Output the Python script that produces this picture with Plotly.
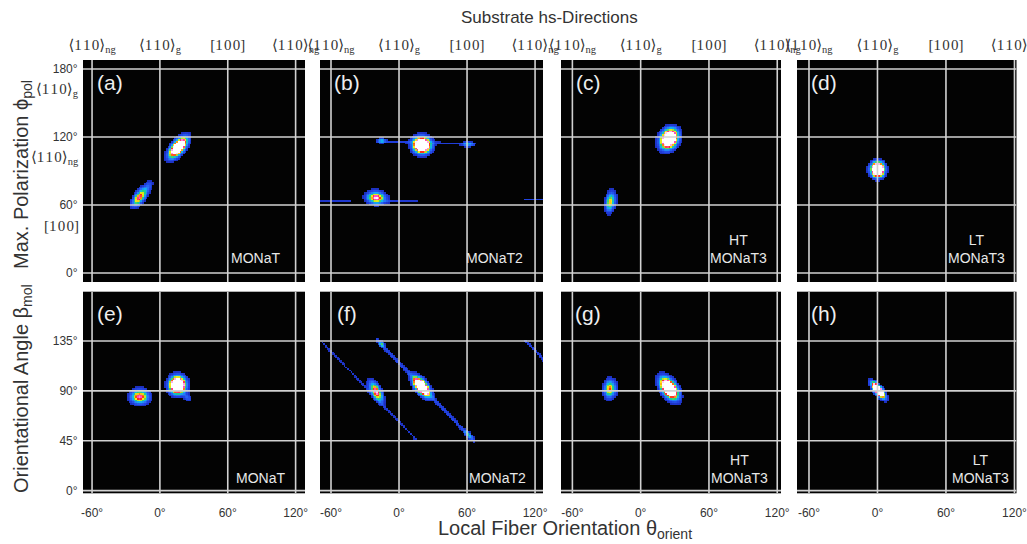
import numpy as np
import plotly.graph_objects as go

# ---------------- data ----------------
panel_letters = ["(a)", "(b)", "(c)", "(d)", "(e)", "(f)", "(g)", "(h)"]
sample_labels = ["MONaT", "MONaT2", "HT<br>MONaT3", "LT<br>MONaT3",
                 "MONaT", "MONaT2", "HT<br>MONaT3", "LT<br>MONaT3"]

theta_ticks = [-60, 0, 60, 120]
theta_ticktext = ["-60°", "0°", "60°", "120°"]
direction_ticktext = ["⟨1\u200a1\u200a0⟩<sub>ng</sub>", "⟨1\u200a1\u200a0⟩<sub>g</sub>",
                      "[1\u200a0\u200a0]", "⟨1\u200a1\u200a0⟩<sub>ng</sub>"]
phi_ticks = [0, 60, 120, 180]
phi_ticktext = ["0°", "60°", "120°", "180°"]
phi_dir_vals = [60, 120, 180]
phi_dir_text = ["[1\u200a0\u200a0]", "⟨1\u200a1\u200a0⟩<sub>ng</sub>", "⟨1\u200a1\u200a0⟩<sub>g</sub>"]
beta_ticks = [0, 45, 90, 135]
beta_ticktext = ["0°", "45°", "90°", "135°"]

# density blobs: (theta centre, angle centre, sigma major, sigma minor, tilt deg, peak)
# (the low-peak, wide entries are the dim blue halos around the bright cores)
blobs_a = [(-18.5, 66.5, 5.0, 2.4, 55, 0.78), (-11.5, 75.0, 5.0, 2.2, 55, 0.18),
           (16.0, 111.0, 6.0, 2.8, 50, 2.0),
           (16.0, 111.0, 8.0, 4.0, 50, 0.12), (-16.5, 69.0, 7.0, 3.4, 55, 0.1)]
blobs_b = [(20.3, 113.0, 3.9, 4.3, 80, 2.3), (-20.0, 66.5, 3.0, 4.6, 85, 0.9),
           (-15.0, 117.0, 2.2, 1.3, 0, 0.35), (61.0, 114.0, 3.0, 1.4, 0, 0.35),
           (20.3, 113.0, 5.5, 6.0, 80, 0.12), (-20.0, 67.0, 4.2, 6.2, 85, 0.1)]
blobs_c = [(25.0, 118.5, 5.2, 4.0, 60, 2.1), (-26.5, 63.0, 5.0, 2.4, 80, 0.62),
           (25.0, 118.5, 7.0, 5.5, 60, 0.12), (-26.5, 63.0, 6.5, 3.3, 80, 0.08)]
blobs_d = [(0.0, 91.5, 3.6, 3.3, 90, 2.6), (0.0, 92.0, 4.6, 4.2, 90, 0.1)]
blobs_e = [(-18.0, 84.5, 4.6, 3.6, 0, 0.82), (15.5, 95.0, 4.3, 4.0, 90, 2.3),
           (24.0, 84.0, 3.2, 1.8, -45, 0.2),
           (15.5, 95.0, 5.8, 5.2, 90, 0.12), (-17.5, 84.5, 6.0, 4.5, 0, 0.1)]
blobs_f = [(20.0, 93.5, 5.8, 2.7, -52, 2.2), (-20.0, 89.0, 5.6, 2.4, -62, 0.88),
           (-15.0, 132.0, 2.0, 1.3, -47, 0.38), (61.4, 50.6, 3.0, 1.3, -47, 0.38),
           (20.0, 93.5, 7.5, 3.6, -52, 0.12), (-20.0, 89.0, 7.0, 3.2, -62, 0.1)]
blobs_g = [(-27.0, 91.5, 4.6, 3.0, 85, 0.66), (25.0, 92.0, 6.0, 3.4, -55, 2.2),
           (25.0, 92.0, 8.0, 4.5, -55, 0.12), (-27.0, 91.5, 6.0, 4.0, 85, 0.1)]
blobs_h = [(0.5, 90.5, 4.7, 1.8, -52, 2.6), (0.5, 90.5, 6.0, 2.4, -52, 0.1)]

# streaks: (theta start, angle start, theta end, angle end, width, peak)
streaks_b = [(-19.0, 116.5, 66.0, 114.0, 0.9, 0.11),
             (-69.0, 64.0, -43.0, 63.5, 0.8, 0.09),
             (-12.0, 63.5, 16.0, 63.0, 0.8, 0.1),
             (111.0, 65.0, 130.0, 65.0, 1.0, 0.13)]
streaks_f = [(-19.4, 136.0, 65.8, 45.0, 1.1, 0.14),
             (-68.0, 134.0, 15.9, 45.3, 0.8, 0.09),
             (111.5, 135.4, 130.0, 116.0, 0.9, 0.12)]

panel_blobs = [blobs_a, blobs_b, blobs_c, blobs_d, blobs_e, blobs_f, blobs_g, blobs_h]
panel_streaks = [[], streaks_b, [], [], [], streaks_f, [], []]

# ---------------- layout geometry (pixels) ----------------
W, H = 1027, 544
col_px = [(83, 305), (320, 543), (561, 781), (797, 1016.5)]
col_range = [(-68, 128.3), (-69.7, 127), (-70, 123.3), (-70.5, 121.8)]
row_px = [(60, 282), (291.7, 493.3)]
row_range = [(-8, 188), (-2.4, 179.4)]
sample_pos = [(255.5, 260), (494, 260), (738.7, 260), (976.7, 260),
              (260.7, 480), (497, 480), (739.3, 480), (980, 480)]

SANS = "Liberation Sans, Arial, sans-serif"
SERIF = "Liberation Serif, DejaVu Serif, serif"
TXT = "#333333"

colorscale = [
    [0.0, "#1a22a0"], [0.12, "#2040e0"], [0.25, "#2a70f8"], [0.38, "#10b8f0"],
    [0.48, "#20d080"], [0.58, "#c8e61e"], [0.66, "#ffe619"], [0.76, "#ff2a14"],
    [0.88, "#ff50c8"], [1.0, "#ffffff"],
]


def render(xg, yg, blobs, streaks):
    X, Y = np.meshgrid(xg, yg)
    Z = np.zeros_like(X)
    for cx, cy, smaj, smin, tilt, peak in blobs:
        t = np.radians(tilt)
        dx, dy = X - cx, Y - cy
        u = dx * np.cos(t) + dy * np.sin(t)
        v = -dx * np.sin(t) + dy * np.cos(t)
        Z += peak * np.exp(-0.5 * ((u / smaj) ** 2 + (v / smin) ** 2))
    for x0, y0, x1, y1, w, peak in streaks:
        vx, vy = x1 - x0, y1 - y0
        L2 = vx * vx + vy * vy
        s = np.clip(((X - x0) * vx + (Y - y0) * vy) / L2, 0, 1)
        d = np.hypot(X - (x0 + s * vx), Y - (y0 + s * vy))
        Z += peak * np.exp(-0.5 * (d / w) ** 2)
    Z[Z < 0.05] = np.nan
    return Z


def px(xp):
    return xp / W


def py(yp):
    return 1 - yp / H


fig = go.Figure()
layout = dict(
    width=W, height=H, margin=dict(l=0, r=0, t=0, b=0, autoexpand=False),
    paper_bgcolor="white", plot_bgcolor="#030303", showlegend=False,
    font=dict(family=SANS, color=TXT),
)
shapes = []
annotations = []

for i in range(8):
    r, c = divmod(i, 4)
    n = i + 1
    xs = "x" if n == 1 else f"x{n}"
    ys = "y" if n == 1 else f"y{n}"
    xr, yr = col_range[c], row_range[r]
    xg = np.arange(-72, 131, 1.5)
    yg = np.arange(yr[0] - 2, yr[1] + 2, 1.5)
    Z = render(xg, yg, panel_blobs[i], panel_streaks[i])
    fig.add_trace(go.Heatmap(x=xg, y=yg, z=Z, colorscale=colorscale, zmin=0, zmax=1,
                             showscale=False, hoverinfo="skip", zsmooth=False,
                             xaxis=xs, yaxis=ys))

    xa = dict(domain=[px(col_px[c][0]), px(col_px[c][1])], range=list(xr),
              anchor=ys, showgrid=False, zeroline=False, showline=False, automargin=False,
              tickvals=theta_ticks, ticks="outside", tickcolor="rgba(0,0,0,0)",
              ticklabeloverflow="allow")
    if r == 0:
        xa.update(side="top", ticktext=direction_ticktext, ticklen=3,
                  tickfont=dict(family=SERIF, size=15, color=TXT))
    else:
        xa.update(side="bottom", ticktext=theta_ticktext, ticklen=8,
                  tickfont=dict(family=SANS, size=12, color=TXT))
    yt, ytt = (phi_ticks, phi_ticktext) if r == 0 else (beta_ticks, beta_ticktext)
    ya = dict(domain=[py(row_px[r][1]), py(row_px[r][0])], range=list(yr),
              anchor=xs, showgrid=False, zeroline=False, showline=False, automargin=False,
              tickvals=yt, ticktext=ytt, ticks="outside", ticklen=2,
              tickcolor="rgba(0,0,0,0)", showticklabels=(c == 0),
              ticklabeloverflow="allow",
              tickfont=dict(family=SANS, size=12, color=TXT))
    layout["xaxis" if n == 1 else f"xaxis{n}"] = xa
    layout["yaxis" if n == 1 else f"yaxis{n}"] = ya

    # grid lines drawn above the density maps
    for t in theta_ticks:
        if xr[0] <= t <= xr[1]:
            shapes.append(dict(type="line", xref=xs, yref=ys, x0=t, x1=t, y0=yr[0], y1=yr[1],
                               line=dict(color="#d2d2d2", width=1.6), layer="above"))
    for t in yt:
        if yr[0] <= t <= yr[1]:
            shapes.append(dict(type="line", xref=xs, yref=ys, x0=xr[0], x1=xr[1], y0=t, y1=t,
                               line=dict(color="#d2d2d2", width=1.6), layer="above"))

    # panel letter
    annotations.append(dict(text=panel_letters[i], xref="paper", yref="paper",
                            x=px(col_px[c][0] + 27), y=py(row_px[r][0] + 22),
                            xanchor="center", yanchor="middle", showarrow=False,
                            font=dict(family=SANS, size=21, color="#eeeeee")))
    # sample label
    sx, sy = sample_pos[i]
    annotations.append(dict(text=sample_labels[i], xref="paper", yref="paper",
                            x=px(sx), y=py(sy + 8), xanchor="center", yanchor="bottom",
                            showarrow=False, align="center",
                            font=dict(family=SANS, size=14, color="#e8e8e8")))

# crystal directions under the polarisation tick labels
for v, t in zip(phi_dir_vals, phi_dir_text):
    annotations.append(dict(text=t, xref="paper", yref="y", x=px(81), y=v, yshift=-21,
                            xanchor="right", yanchor="middle", showarrow=False,
                            font=dict(family=SERIF, size=15, color=TXT)))

# titles
annotations += [
    dict(text="Substrate hs-Directions", xref="paper", yref="paper", x=px(549), y=py(18),
         xanchor="center", yanchor="middle", showarrow=False,
         font=dict(family=SANS, size=17, color=TXT)),
    dict(text="Local Fiber Orientation θ<sub>orient</sub>", xref="paper", yref="paper",
         x=px(565), y=py(529), xanchor="center", yanchor="middle", showarrow=False,
         font=dict(family=SANS, size=20, color=TXT)),
    dict(text="Max. Polarization ϕ<sub>pol</sub>", xref="paper", yref="paper",
         x=px(22), y=py(175), xanchor="center", yanchor="middle", textangle=-90,
         showarrow=False, font=dict(family=SANS, size=20, color=TXT)),
    dict(text="Orientational Angle β<sub>mol</sub>", xref="paper", yref="paper",
         x=px(22), y=py(389), xanchor="center", yanchor="middle", textangle=-90,
         showarrow=False, font=dict(family=SANS, size=20, color=TXT)),
]

layout["shapes"] = shapes
layout["annotations"] = annotations
fig.update_layout(**layout)
fig.write_html("out.html", config={"displayModeBar": False},
               post_script="document.body.style.margin='0';document.body.style.overflow='hidden';")
